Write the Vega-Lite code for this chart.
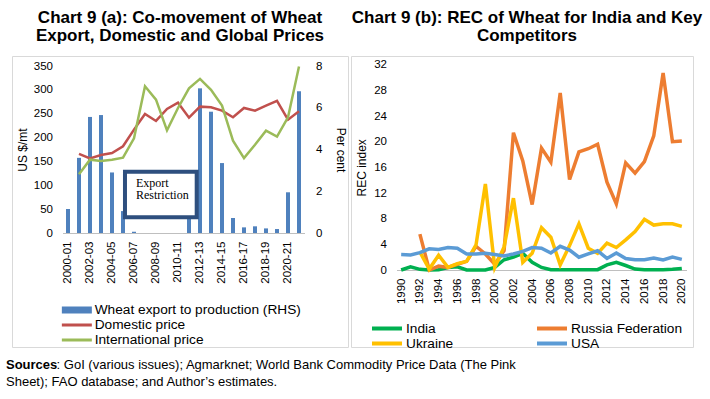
{
  "$schema": "https://vega.github.io/schema/vega-lite/v6.json",
  "padding": {"left": 6, "top": 8, "right": 0, "bottom": 0},
  "spacing": 1,
  "resolve": {"scale": {"color": "independent"}, "legend": {"color": "independent"}},
  "config": {
    "view": {"stroke": "#d9d9d9", "strokeWidth": 1},
    "font": "Liberation Sans",
    "axis": {"labelFont": "Liberation Sans", "labelFontSize": 11.5, "labelColor": "#000", "titleFont": "Liberation Sans", "titleFontSize": 12, "titleFontWeight": "normal", "titleColor": "#000", "grid": false, "ticks": false, "domain": false, "labelOverlap": false, "labelFlush": false, "labelBound": false},
    "legend": {"labelFont": "Liberation Sans", "labelFontSize": 13.7, "labelColor": "#000", "labelLimit": 400, "padding": 0},
    "title": {"font": "Liberation Sans", "fontSize": 17, "fontWeight": "bold", "color": "#000"}
  },
  "title": {
    "text": "Sources",
    "subtitle": ["\u200b\u00a0\u00a0\u00a0\u00a0\u00a0\u00a0\u00a0\u00a0\u00a0\u00a0\u00a0\u00a0\u00a0\u00a0: GoI (various issues); Agmarknet; World Bank Commodity Price Data (The Pink", "Sheet); FAO database; and Author\u2019s estimates."],
    "orient": "bottom", "anchor": "start", "frame": "group",
    "font": "Liberation Sans", "fontSize": 13, "fontWeight": "bold", "color": "#000",
    "subtitleFont": "Liberation Sans", "subtitleFontSize": 13, "subtitleFontWeight": "normal", "subtitleColor": "#000",
    "subtitlePadding": -13, "subtitleLineHeight": 17, "offset": 7, "dx": -6
  },
  "hconcat": [
    {
      "width": 336, "height": 291,
      "title": {"text": ["Chart 9 (a): Co-movement of Wheat", "Export, Domestic and Global Prices"], "anchor": "middle", "lineHeight": 18.5, "baseline": "bottom", "offset": -6},
      "data": {"values": [
        {"period": "2000-01", "series": "Wheat export to production (RHS)", "value": 1.15},
        {"period": "2001-02", "series": "Wheat export to production (RHS)", "value": 3.6},
        {"period": "2002-03", "series": "Wheat export to production (RHS)", "value": 5.56},
        {"period": "2003-04", "series": "Wheat export to production (RHS)", "value": 5.65},
        {"period": "2004-05", "series": "Wheat export to production (RHS)", "value": 2.9},
        {"period": "2005-06", "series": "Wheat export to production (RHS)", "value": 1.05},
        {"period": "2006-07", "series": "Wheat export to production (RHS)", "value": 0.06},
        {"period": "2007-08", "series": "Wheat export to production (RHS)", "value": 0},
        {"period": "2008-09", "series": "Wheat export to production (RHS)", "value": 0},
        {"period": "2009-10", "series": "Wheat export to production (RHS)", "value": 0},
        {"period": "2010-11", "series": "Wheat export to production (RHS)", "value": 0},
        {"period": "2011-12", "series": "Wheat export to production (RHS)", "value": 1.2},
        {"period": "2012-13", "series": "Wheat export to production (RHS)", "value": 6.93},
        {"period": "2013-14", "series": "Wheat export to production (RHS)", "value": 5.81},
        {"period": "2014-15", "series": "Wheat export to production (RHS)", "value": 3.35},
        {"period": "2015-16", "series": "Wheat export to production (RHS)", "value": 0.72},
        {"period": "2016-17", "series": "Wheat export to production (RHS)", "value": 0.27},
        {"period": "2017-18", "series": "Wheat export to production (RHS)", "value": 0.32},
        {"period": "2018-19", "series": "Wheat export to production (RHS)", "value": 0.22},
        {"period": "2019-20", "series": "Wheat export to production (RHS)", "value": 0.19},
        {"period": "2020-21", "series": "Wheat export to production (RHS)", "value": 1.95},
        {"period": "2021-22", "series": "Wheat export to production (RHS)", "value": 6.79},
        {"period": "2001-02", "series": "Domestic price", "value": 166},
        {"period": "2002-03", "series": "Domestic price", "value": 156.5},
        {"period": "2003-04", "series": "Domestic price", "value": 163.5},
        {"period": "2004-05", "series": "Domestic price", "value": 167.7},
        {"period": "2005-06", "series": "Domestic price", "value": 181.7},
        {"period": "2006-07", "series": "Domestic price", "value": 216.6},
        {"period": "2007-08", "series": "Domestic price", "value": 249.5},
        {"period": "2008-09", "series": "Domestic price", "value": 234.8},
        {"period": "2009-10", "series": "Domestic price", "value": 260},
        {"period": "2010-11", "series": "Domestic price", "value": 273},
        {"period": "2011-12", "series": "Domestic price", "value": 241.7},
        {"period": "2012-13", "series": "Domestic price", "value": 264.8},
        {"period": "2013-14", "series": "Domestic price", "value": 263.5},
        {"period": "2014-15", "series": "Domestic price", "value": 256.4},
        {"period": "2015-16", "series": "Domestic price", "value": 242.5},
        {"period": "2016-17", "series": "Domestic price", "value": 262},
        {"period": "2017-18", "series": "Domestic price", "value": 256.4},
        {"period": "2018-19", "series": "Domestic price", "value": 267},
        {"period": "2019-20", "series": "Domestic price", "value": 277},
        {"period": "2020-21", "series": "Domestic price", "value": 237.5},
        {"period": "2021-22", "series": "Domestic price", "value": 255},
        {"period": "2001-02", "series": "International price", "value": 123},
        {"period": "2002-03", "series": "International price", "value": 153.7},
        {"period": "2003-04", "series": "International price", "value": 151},
        {"period": "2004-05", "series": "International price", "value": 153.7},
        {"period": "2005-06", "series": "International price", "value": 158},
        {"period": "2006-07", "series": "International price", "value": 198.5},
        {"period": "2007-08", "series": "International price", "value": 307.5},
        {"period": "2008-09", "series": "International price", "value": 279.5},
        {"period": "2009-10", "series": "International price", "value": 215},
        {"period": "2010-11", "series": "International price", "value": 262},
        {"period": "2011-12", "series": "International price", "value": 303},
        {"period": "2012-13", "series": "International price", "value": 323},
        {"period": "2013-14", "series": "International price", "value": 300},
        {"period": "2014-15", "series": "International price", "value": 267},
        {"period": "2015-16", "series": "International price", "value": 193.5},
        {"period": "2016-17", "series": "International price", "value": 157},
        {"period": "2017-18", "series": "International price", "value": 185},
        {"period": "2018-19", "series": "International price", "value": 214.5},
        {"period": "2019-20", "series": "International price", "value": 202},
        {"period": "2020-21", "series": "International price", "value": 242.5},
        {"period": "2021-22", "series": "International price", "value": 349}
      ]},
      "layer": [
        {
          "layer": [
            {
              "transform": [{"filter": "datum.series === 'Wheat export to production (RHS)'"}],
              "mark": {"type": "bar", "width": 4},
              "encoding": {
                "x": {"field": "period", "type": "ordinal",
                  "scale": {"domain": ["2000-01","2001-02","2002-03","2003-04","2004-05","2005-06","2006-07","2007-08","2008-09","2009-10","2010-11","2011-12","2012-13","2013-14","2014-15","2015-16","2016-17","2017-18","2018-19","2019-20","2020-21","2021-22"], "range": [50.5, 292.5], "paddingInner": 0, "paddingOuter": 0},
                  "axis": {"values": ["2000-01","2002-03","2004-05","2006-07","2008-09","2010-11","2012-13","2014-15","2016-17","2018-19","2020-21"], "labelAngle": -90, "offset": -114, "domain": true, "domainColor": "#bfbfbf", "labelPadding": 8, "title": null}},
                "y": {"field": "value", "type": "quantitative",
                  "scale": {"domain": [0, 8], "range": [177, 10], "nice": false},
                  "axis": {"orient": "right", "offset": -43.5, "values": [0,1,2,3,4,5,6,7,8], "labelPadding": 11, "title": "Per cent", "titlePadding": 12}},
                "color": {"field": "series", "type": "nominal",
                  "scale": {"domain": ["Wheat export to production (RHS)", "Domestic price", "International price"], "range": ["#4F81BD", "#C0504D", "#9BBB59"]},
                  "legend": {"orient": "none", "legendX": 48, "legendY": 246.5, "title": null, "direction": "vertical", "symbolSize": 100, "symbolOffset": 10, "labelOffset": 11, "rowPadding": 0, "clipHeight": 15, "labelFontSize": 13.7,
                    "encode": {"symbols": {"update": {
                      "shape": {"value": "M-3,0H3"},
                      "fill": {"value": "transparent"},
                      "stroke": {"signal": "datum.value === 'Domestic price' ? '#C0504D' : (datum.value === 'International price' ? '#9BBB59' : '#4F81BD')"},
                      "strokeWidth": {"signal": "datum.value === 'Wheat export to production (RHS)' ? 7 : 3"},
                      "strokeCap": {"value": "butt"},
                      "opacity": {"value": 1}
                    }}}}
                }
              }
            },
            {
              "data": {"values": [{"x1": "2005-06", "x2": "2012-13", "y1": 0.754, "y2": 2.937}]},
              "mark": {"type": "rect", "fill": "#ffffff", "stroke": "#2E4F7E", "strokeWidth": 4},
              "encoding": {
                "x": {"field": "x1", "type": "ordinal", "bandPosition": 0.68},
                "x2": {"field": "x2", "bandPosition": 0.2},
                "y": {"field": "y1", "type": "quantitative"},
                "y2": {"field": "y2"}
              }
            },
            {
              "data": {"values": [{"period": "2006-07", "value": 2.194, "label": "Export\nRestriction"}]},
              "mark": {"type": "text", "align": "left", "baseline": "alphabetic", "font": "Liberation Serif", "fontSize": 12, "lineBreak": "\n", "lineHeight": 12, "dx": 2, "color": "#000"},
              "encoding": {
                "x": {"field": "period", "type": "ordinal", "bandPosition": 0.5},
                "y": {"field": "value", "type": "quantitative"},
                "text": {"field": "label"}
              }
            }
          ]
        },
        {
          "transform": [{"filter": "datum.series !== 'Wheat export to production (RHS)'"}],
          "mark": {"type": "line", "strokeWidth": 2.5},
          "encoding": {
            "x": {"field": "period", "type": "ordinal"},
            "y": {"field": "value", "type": "quantitative",
              "scale": {"domain": [0, 350], "range": [177, 10], "nice": false},
              "axis": {"orient": "left", "offset": -50.5, "values": [0,50,100,150,200,250,300,350], "title": "US $/mt", "labelPadding": 10, "titlePadding": 4}},
            "color": {"field": "series", "type": "nominal"}
          }
        }
      ],
      "resolve": {"scale": {"y": "independent"}}
    },
    {
      "width": 342, "height": 291,
      "title": {"text": ["Chart 9 (b): REC of Wheat for India and Key", "Competitors"], "anchor": "middle", "lineHeight": 18.5, "baseline": "bottom", "offset": -6, "dx": 5},
      "data": {"values": [
        {"year": 1990, "country": "India", "rec": 0},
        {"year": 1991, "country": "India", "rec": 0.5},
        {"year": 1992, "country": "India", "rec": 0.1},
        {"year": 1993, "country": "India", "rec": 0},
        {"year": 1994, "country": "India", "rec": 0.05},
        {"year": 1995, "country": "India", "rec": 0.4},
        {"year": 1996, "country": "India", "rec": 0.5},
        {"year": 1997, "country": "India", "rec": 0},
        {"year": 1998, "country": "India", "rec": 0},
        {"year": 1999, "country": "India", "rec": 0},
        {"year": 2000, "country": "India", "rec": 0.4},
        {"year": 2001, "country": "India", "rec": 1.6},
        {"year": 2002, "country": "India", "rec": 2.0},
        {"year": 2003, "country": "India", "rec": 2.6},
        {"year": 2004, "country": "India", "rec": 1.2},
        {"year": 2005, "country": "India", "rec": 0.4},
        {"year": 2006, "country": "India", "rec": 0.05},
        {"year": 2007, "country": "India", "rec": 0.02},
        {"year": 2008, "country": "India", "rec": 0.02},
        {"year": 2009, "country": "India", "rec": 0.02},
        {"year": 2010, "country": "India", "rec": 0.02},
        {"year": 2011, "country": "India", "rec": 0.05},
        {"year": 2012, "country": "India", "rec": 0.8},
        {"year": 2013, "country": "India", "rec": 1.2},
        {"year": 2014, "country": "India", "rec": 0.7},
        {"year": 2015, "country": "India", "rec": 0.15},
        {"year": 2016, "country": "India", "rec": 0.05},
        {"year": 2017, "country": "India", "rec": 0.05},
        {"year": 2018, "country": "India", "rec": 0.05},
        {"year": 2019, "country": "India", "rec": 0.1},
        {"year": 2020, "country": "India", "rec": 0.25},
        {"year": 1992, "country": "Russia Federation", "rec": 5.6},
        {"year": 1993, "country": "Russia Federation", "rec": 0},
        {"year": 1994, "country": "Russia Federation", "rec": 0.6},
        {"year": 1995, "country": "Russia Federation", "rec": 0.4},
        {"year": 1996, "country": "Russia Federation", "rec": 0.9},
        {"year": 1997, "country": "Russia Federation", "rec": 1.35},
        {"year": 1998, "country": "Russia Federation", "rec": 3.7},
        {"year": 1999, "country": "Russia Federation", "rec": 2.5},
        {"year": 2000, "country": "Russia Federation", "rec": 0.9},
        {"year": 2001, "country": "Russia Federation", "rec": 3.0},
        {"year": 2002, "country": "Russia Federation", "rec": 21.4},
        {"year": 2003, "country": "Russia Federation", "rec": 17.0},
        {"year": 2004, "country": "Russia Federation", "rec": 10.2},
        {"year": 2005, "country": "Russia Federation", "rec": 19.0},
        {"year": 2006, "country": "Russia Federation", "rec": 16.8},
        {"year": 2007, "country": "Russia Federation", "rec": 27.6},
        {"year": 2008, "country": "Russia Federation", "rec": 14.1},
        {"year": 2009, "country": "Russia Federation", "rec": 18.4},
        {"year": 2010, "country": "Russia Federation", "rec": 18.9},
        {"year": 2011, "country": "Russia Federation", "rec": 19.6},
        {"year": 2012, "country": "Russia Federation", "rec": 13.7},
        {"year": 2013, "country": "Russia Federation", "rec": 10.3},
        {"year": 2014, "country": "Russia Federation", "rec": 16.7},
        {"year": 2015, "country": "Russia Federation", "rec": 15.1},
        {"year": 2016, "country": "Russia Federation", "rec": 16.9},
        {"year": 2017, "country": "Russia Federation", "rec": 20.9},
        {"year": 2018, "country": "Russia Federation", "rec": 30.7},
        {"year": 2019, "country": "Russia Federation", "rec": 20.0},
        {"year": 2020, "country": "Russia Federation", "rec": 20.1},
        {"year": 1992, "country": "Ukraine", "rec": 2.8},
        {"year": 1993, "country": "Ukraine", "rec": 0.15},
        {"year": 1994, "country": "Ukraine", "rec": 2.3},
        {"year": 1995, "country": "Ukraine", "rec": 0.4},
        {"year": 1996, "country": "Ukraine", "rec": 1.0},
        {"year": 1997, "country": "Ukraine", "rec": 1.35},
        {"year": 1998, "country": "Ukraine", "rec": 3.9},
        {"year": 1999, "country": "Ukraine", "rec": 13.4},
        {"year": 2000, "country": "Ukraine", "rec": 0.4},
        {"year": 2001, "country": "Ukraine", "rec": 3.6},
        {"year": 2002, "country": "Ukraine", "rec": 11.2},
        {"year": 2003, "country": "Ukraine", "rec": 1.2},
        {"year": 2004, "country": "Ukraine", "rec": 2.6},
        {"year": 2005, "country": "Ukraine", "rec": 6.6},
        {"year": 2006, "country": "Ukraine", "rec": 5.1},
        {"year": 2007, "country": "Ukraine", "rec": 0.8},
        {"year": 2008, "country": "Ukraine", "rec": 3.8},
        {"year": 2009, "country": "Ukraine", "rec": 7.2},
        {"year": 2010, "country": "Ukraine", "rec": 3.4},
        {"year": 2011, "country": "Ukraine", "rec": 2.6},
        {"year": 2012, "country": "Ukraine", "rec": 4.2},
        {"year": 2013, "country": "Ukraine", "rec": 3.5},
        {"year": 2014, "country": "Ukraine", "rec": 4.7},
        {"year": 2015, "country": "Ukraine", "rec": 6.0},
        {"year": 2016, "country": "Ukraine", "rec": 7.9},
        {"year": 2017, "country": "Ukraine", "rec": 7.0},
        {"year": 2018, "country": "Ukraine", "rec": 7.2},
        {"year": 2019, "country": "Ukraine", "rec": 7.2},
        {"year": 2020, "country": "Ukraine", "rec": 6.8},
        {"year": 1990, "country": "USA", "rec": 2.4},
        {"year": 1991, "country": "USA", "rec": 2.35},
        {"year": 1992, "country": "USA", "rec": 2.7},
        {"year": 1993, "country": "USA", "rec": 3.3},
        {"year": 1994, "country": "USA", "rec": 3.2},
        {"year": 1995, "country": "USA", "rec": 3.5},
        {"year": 1996, "country": "USA", "rec": 3.4},
        {"year": 1997, "country": "USA", "rec": 2.5},
        {"year": 1998, "country": "USA", "rec": 2.5},
        {"year": 1999, "country": "USA", "rec": 2.6},
        {"year": 2000, "country": "USA", "rec": 2.4},
        {"year": 2001, "country": "USA", "rec": 2.2},
        {"year": 2002, "country": "USA", "rec": 2.5},
        {"year": 2003, "country": "USA", "rec": 2.9},
        {"year": 2004, "country": "USA", "rec": 3.5},
        {"year": 2005, "country": "USA", "rec": 3.4},
        {"year": 2006, "country": "USA", "rec": 2.65},
        {"year": 2007, "country": "USA", "rec": 3.7},
        {"year": 2008, "country": "USA", "rec": 3.1},
        {"year": 2009, "country": "USA", "rec": 2.0},
        {"year": 2010, "country": "USA", "rec": 2.5},
        {"year": 2011, "country": "USA", "rec": 3.0},
        {"year": 2012, "country": "USA", "rec": 1.8},
        {"year": 2013, "country": "USA", "rec": 2.65},
        {"year": 2014, "country": "USA", "rec": 1.8},
        {"year": 2015, "country": "USA", "rec": 1.6},
        {"year": 2016, "country": "USA", "rec": 1.6},
        {"year": 2017, "country": "USA", "rec": 1.87},
        {"year": 2018, "country": "USA", "rec": 1.56},
        {"year": 2019, "country": "USA", "rec": 2.0},
        {"year": 2020, "country": "USA", "rec": 1.66}
      ]},
      "mark": {"type": "line", "strokeWidth": 3.5},
      "encoding": {
        "x": {"field": "year", "type": "quantitative",
          "scale": {"domain": [1989.5, 2020.5], "range": [45.5, 335.5], "nice": false, "zero": false},
          "axis": {"values": [1990,1992,1994,1996,1998,2000,2002,2004,2006,2008,2010,2012,2014,2016,2018,2020], "format": "d", "labelAngle": -90, "offset": -77, "domain": true, "domainColor": "#bfbfbf", "title": null, "labelPadding": 8}},
        "y": {"field": "rec", "type": "quantitative",
          "scale": {"domain": [0, 32], "range": [214, 8.7], "nice": false},
          "axis": {"values": [0,4,8,12,16,20,24,28,32], "offset": -45.5, "title": "REC index", "labelPadding": 10, "titlePadding": 5}},
        "color": {"field": "country", "type": "nominal",
          "scale": {"domain": ["India", "Russia Federation", "Ukraine", "USA"], "range": ["#00B050", "#ED7D31", "#FFC000", "#5B9BD5"]},
          "legend": {"orient": "none", "legendX": 19, "legendY": 265, "columns": 2, "direction": "horizontal", "columnPadding": 81, "title": null, "symbolType": "M-3,0H3", "symbolSize": 100, "symbolOffset": 10, "symbolStrokeWidth": 4, "symbolFillColor": "transparent", "labelOffset": 12, "rowPadding": 0, "clipHeight": 15, "labelFontSize": 13.7}}
      }
    }
  ]
}
